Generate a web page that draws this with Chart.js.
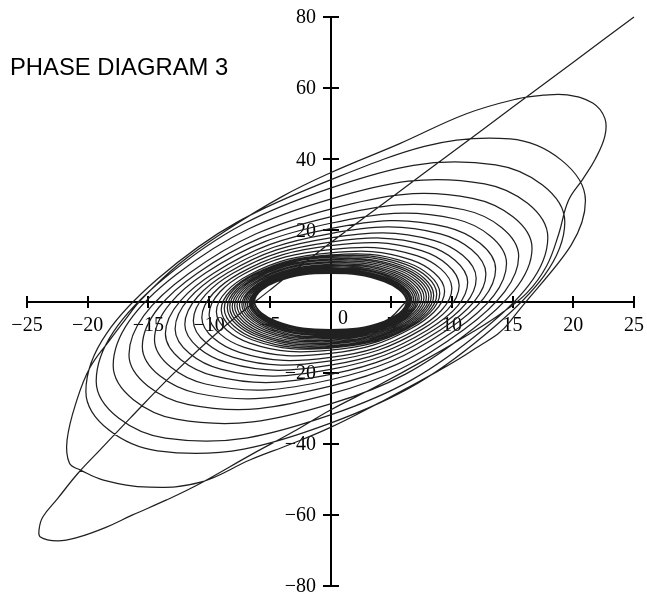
<!DOCTYPE html>
<html>
<head>
<meta charset="utf-8">
<script src="https://cdn.jsdelivr.net/npm/chart.js@4.4.0/dist/chart.umd.min.js"></script>
<style>
  html, body { margin: 0; padding: 0; background: #fff; }
</style>
</head>
<body>
<canvas id="phaseChart" width="647" height="593"></canvas>
<script>
const xTicks = [-25, -20, -15, -10, -5, 0, 5, 10, 15, 20, 25];
const yTicks = [-80, -60, -40, -20, 0, 20, 40, 60, 80];

// the long diagonal stroke where the trajectory starts (top right corner)
const startX = [25, 20, 15, 10, 5, 0, -5, -9, -13, -16.5, -19, -20.8, -22.5, -23.7, -24];
const startY = [80, 67.3, 54.6, 41.9, 29.2, 16.5, 3.2, -7.8, -20.5, -32.8, -41.8, -48.3, -55.5, -60.6, -64];

// first big turn after the tip, read point by point
const outerX = [-23.9, -22.5, -20.9, -18.5, -16.3, -13.5, -10.7, -6.6, -3, 0, 4, 8, 11.5, 14, 16.2, 17.8, 18.8, 19.6,
  20.8, 21.8, 22.6, 22.6, 21.6, 19.5, 17.5, 15.4, 11.2, 5.7, 0, -4, -8.5, -12.5, -15.6, -17, -18.2, -19.8, -20.9,
  -21.7, -21.5, -20.6, -18.7, -14.9, -10.7, -6.6, -3.2, 0, 4, 8, 11.8];
const outerY = [-66.2, -67.3, -66.4, -63.5, -60, -55.8, -51.1, -43.2, -36.5, -30.5, -23.5, -16, -9, -3.5, 2.5, 10, 19, 28.4,
  34.5, 40, 46.5, 51.5, 55.8, 58.1, 58, 57, 52.8, 44.4, 36.2, 29.5, 20.2, 10.5, 0.5, -5.5, -10.9, -18.5, -27.8,
  -39, -45.5, -47.4, -50.2, -52.2, -50.8, -44.5, -40, -35.4, -28.5, -21.2, -13.5];

// remaining turns, one row per turn (counter-clockwise), closing in on the inner ellipse
const spiralLoops = [
  [[14.8, -5.6], [21, 28.3], [14.8, 45.7], [0, 34.2], [-14.25, 6.3], [-20.15, -25.3], [-14.25, -42], [0, -34.2]],
  [[13.6, -6.8], [19.3, 22.4], [13.6, 38.4], [0, 31.9], [-13.6, 6.8], [-19.3, -22.4], [-13.6, -38.4], [0, -31.9]],
  [[12.7, -7.6], [17.9, 18.0], [12.7, 33.1], [0, 28.8], [-12.7, 7.6], [-17.9, -18.0], [-12.7, -33.1], [0, -28.8]],
  [[11.7, -7.8], [16.6, 15.0], [11.7, 29.0], [0, 26.0], [-11.7, 7.8], [-16.6, -15.0], [-11.7, -29.0], [0, -26.0]],
  [[11.0, -7.9], [15.5, 12.7], [11.0, 25.8], [0, 23.8], [-11.0, 7.9], [-15.5, -12.7], [-11.0, -25.8], [0, -23.8]],
  [[10.3, -8.0], [14.5, 10.7], [10.3, 23.2], [0, 22.0], [-10.3, 8.0], [-14.5, -10.7], [-10.3, -23.2], [0, -22.0]],
  [[9.6, -8.0], [13.6, 9.1], [9.6, 20.9], [0, 20.5], [-9.6, 8.0], [-13.6, -9.1], [-9.6, -20.9], [0, -20.5]],
  [[9.05, -8.0], [12.8, 7.7], [9.05, 19.0], [0, 19.1], [-9.05, 8.0], [-12.8, -7.7], [-9.05, -19.0], [0, -19.1]],
  [[8.5, -8.0], [12.0, 6.5], [8.5, 17.2], [0, 17.9], [-8.5, 8.0], [-12.0, -6.5], [-8.5, -17.2], [0, -17.9]],
  [[8.0, -8.0], [11.3, 5.4], [8.0, 15.7], [0, 16.7], [-8.0, 8.0], [-11.3, -5.4], [-8.0, -15.7], [0, -16.7]],
  [[7.5, -7.9], [10.6, 4.5], [7.5, 14.3], [0, 15.7], [-7.5, 7.9], [-10.6, -4.5], [-7.5, -14.3], [0, -15.7]],
  [[7.1, -7.8], [10.0, 3.7], [7.1, 12.9], [0, 14.6], [-7.1, 7.8], [-10.0, -3.7], [-7.1, -12.9], [0, -14.6]],
  [[6.65, -7.6], [9.4, 2.9], [6.65, 11.7], [0, 13.7], [-6.65, 7.6], [-9.4, -2.9], [-6.65, -11.7], [0, -13.7]],
  // dense band round the inner ellipse
  [[6.36, -7.62], [9.0, 2.31], [6.36, 10.9], [0, 13.1], [-6.36, 7.62], [-9.0, -2.31], [-6.36, -10.9], [0, -13.1]],
  [[6.19, -7.59], [8.75, 2.01], [6.19, 10.43], [0, 12.75], [-6.19, 7.59], [-8.75, -2.01], [-6.19, -10.43], [0, -12.75]],
  [[6.01, -7.52], [8.5, 1.74], [6.01, 9.98], [0, 12.38], [-6.01, 7.52], [-8.5, -1.74], [-6.01, -9.98], [0, -12.38]],
  [[5.87, -7.35], [8.3, 1.59], [5.87, 9.59], [0, 11.99], [-5.87, 7.35], [-8.3, -1.59], [-5.87, -9.59], [0, -11.99]],
  [[5.73, -7.2], [8.1, 1.43], [5.73, 9.22], [0, 11.62], [-5.73, 7.2], [-8.1, -1.43], [-5.73, -9.22], [0, -11.62]],
  [[5.59, -7.04], [7.9, 1.28], [5.59, 8.85], [0, 11.23], [-5.59, 7.04], [-7.9, -1.28], [-5.59, -8.85], [0, -11.23]],
  [[5.44, -6.86], [7.7, 1.14], [5.44, 8.48], [0, 10.85], [-5.44, 6.86], [-7.7, -1.14], [-5.44, -8.48], [0, -10.85]],
  [[5.3, -6.67], [7.5, 1.01], [5.3, 8.1], [0, 10.45], [-5.3, 6.67], [-7.5, -1.01], [-5.3, -8.1], [0, -10.45]],
  [[5.16, -6.53], [7.3, 0.88], [5.16, 7.78], [0, 10.11], [-5.16, 6.53], [-7.3, -0.88], [-5.16, -7.78], [0, -10.11]],
  [[5.06, -6.37], [7.15, 0.76], [5.06, 7.45], [0, 9.77], [-5.06, 6.37], [-7.15, -0.76], [-5.06, -7.45], [0, -9.77]],
  [[4.95, -6.2], [7.0, 0.66], [4.95, 7.13], [0, 9.43], [-4.95, 6.2], [-7.0, -0.66], [-4.95, -7.13], [0, -9.43]],
  [[4.84, -6.06], [6.85, 0.56], [4.84, 6.85], [0, 9.13], [-4.84, 6.06], [-6.85, -0.56], [-4.84, -6.85], [0, -9.13]],
  [[4.74, -5.93], [6.7, 0.46], [4.74, 6.58], [0, 8.84], [-4.74, 5.93], [-6.7, -0.46], [-4.74, -6.58], [0, -8.84]],
  [[4.67, -5.81], [6.6, 0.38], [4.67, 6.34], [0, 8.59], [-4.67, 5.81], [-6.6, -0.38], [-4.67, -6.34], [0, -8.59]],
  [[4.6, -5.69], [6.5, 0.29], [4.6, 6.11], [0, 8.35], [-4.6, 5.69], [-6.5, -0.29], [-4.6, -6.11], [0, -8.35]],
  [[4.52, -5.66], [6.4, 0.14], [4.52, 5.86], [0, 8.15], [-4.52, 5.66], [-6.4, -0.14], [-4.52, -5.86], [0, -8.15]],
  [[4.45, -5.66], [6.3, 0], [4.45, 5.66], [0, 8.0], [-4.45, 5.66], [-6.3, 0], [-4.45, -5.66], [0, -8.0]],
  [[4.42, -5.59], [6.25, 0], [4.42, 5.59], [0, 7.9], [-4.42, 5.59], [-6.25, 0], [-4.42, -5.59], [0, -7.9], [4.42, -5.59], [6.25, 0]]
];

const points = [];
startX.forEach((x, i) => points.push({ x: x, y: startY[i] }));
outerX.forEach((x, i) => points.push({ x: x, y: outerY[i] }));
spiralLoops.forEach(loop => loop.forEach(p => points.push({ x: p[0], y: p[1] })));

const serif = "'Liberation Serif', 'Times New Roman', serif";
const fmt = v => String(v).replace('-', '\u2212');
const noPad = s => { s.paddingTop = 0; s.paddingBottom = 0; s.paddingLeft = 0; s.paddingRight = 0; };

// crossing tick marks, y labels left of the axis, the offset "0" and the title
const axisDecor = {
  id: 'axisDecor',
  beforeDatasetsDraw: function(chart) {
    const ctx = chart.ctx;
    const xs = chart.scales.x, ys = chart.scales.y;
    const x0 = Math.round(xs.getPixelForValue(0)), y0 = Math.round(ys.getPixelForValue(0));
    ctx.save();
    ctx.strokeStyle = '#000';
    ctx.lineWidth = 2;
    ctx.beginPath();
    xTicks.forEach(v => {
      const px = Math.round(xs.getPixelForValue(v));
      ctx.moveTo(px, y0 - 6);
      ctx.lineTo(px, y0 + 6);
    });
    yTicks.forEach(v => {
      if (v === 0) return;
      const py = Math.round(ys.getPixelForValue(v));
      ctx.moveTo(x0 - 8, py);
      ctx.lineTo(x0 + 8, py);
    });
    ctx.stroke();

    ctx.fillStyle = '#000';
    ctx.font = '20px ' + serif;
    ctx.textAlign = 'right';
    ctx.textBaseline = 'middle';
    yTicks.forEach(v => {
      if (v === 0) return;
      ctx.fillText(fmt(v), x0 - 15, ys.getPixelForValue(v) + 1);
    });
    ctx.textAlign = 'center';
    ctx.fillText('0', x0 + 12, y0 + 17);

    ctx.font = "23.8px 'Liberation Sans', Arial, sans-serif";
    ctx.textAlign = 'left';
    ctx.textBaseline = 'alphabetic';
    ctx.fillText('PHASE DIAGRAM 3', 10, 75);
    ctx.restore();
  }
};

new Chart(document.getElementById('phaseChart'), {
  type: 'scatter',
  data: {
    datasets: [{
      data: points,
      showLine: true,
      borderColor: '#202020',
      borderWidth: 1.25,
      pointRadius: 0,
      tension: 0.4,
      fill: false,
      clip: false
    }]
  },
  options: {
    responsive: false,
    animation: false,
    devicePixelRatio: 1,
    layout: { padding: { left: 27, right: 13, top: 17, bottom: 7 } },
    plugins: { legend: { display: false }, tooltip: { enabled: false } },
    scales: {
      x: {
        type: 'linear',
        min: -25,
        max: 25,
        position: { y: 0 },
        afterBuildTicks: s => { s.ticks = xTicks.map(v => ({ value: v })); },
        afterFit: noPad,
        grid: { display: false, drawTicks: true, tickLength: 6 },
        border: { display: true, color: '#000', width: 2 },
        ticks: {
          color: '#000',
          font: { family: serif, size: 20 },
          padding: 6,
          maxRotation: 0,
          autoSkip: false,
          callback: v => v === 0 ? '' : fmt(v)
        }
      },
      y: {
        type: 'linear',
        min: -80,
        max: 80,
        position: { x: 0 },
        afterBuildTicks: s => { s.ticks = yTicks.map(v => ({ value: v })); },
        afterFit: noPad,
        grid: { display: false, drawTicks: false },
        border: { display: true, color: '#000', width: 2 },
        ticks: { display: false }
      }
    }
  },
  plugins: [axisDecor]
});
</script>
</body>
</html>
